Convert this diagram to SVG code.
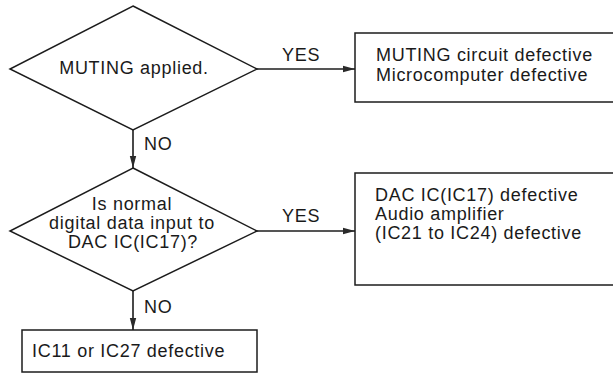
<svg xmlns="http://www.w3.org/2000/svg" width="613" height="376" viewBox="0 0 613 376">
  <style>
    .shape { fill: #ffffff; stroke: #1c1c1c; stroke-width: 1.5; }
    .link { fill: none; stroke: #1c1c1c; stroke-width: 1.6; }
    .txt { font-family: "Liberation Sans", Arial, Helvetica, sans-serif; font-size: 18px; letter-spacing: 0.7px; fill: #1a1a1a; }
    .mid { text-anchor: middle; }
  </style>
  <defs>
    <marker id="arrow" markerUnits="userSpaceOnUse" markerWidth="12" markerHeight="8" refX="12" refY="4" orient="auto">
      <path d="M0,0.8 L12,4 L0,7.2 Z" fill="#2a2a2a"/>
    </marker>
  </defs>
  <rect width="613" height="376" fill="#ffffff"/>

  <!-- connectors -->
  <g id="connectors">
    <line class="link" x1="257" y1="69" x2="355" y2="69" marker-end="url(#arrow)"/>
    <line class="link" x1="133" y1="130" x2="133" y2="168" marker-end="url(#arrow)"/>
    <line class="link" x1="257" y1="231" x2="355" y2="231" marker-end="url(#arrow)"/>
    <line class="link" x1="133" y1="291" x2="133" y2="330" marker-end="url(#arrow)"/>
    <text class="txt" x="282" y="61">YES</text>
    <text class="txt" x="144" y="150">NO</text>
    <text class="txt" x="282" y="222">YES</text>
    <text class="txt" x="144" y="313">NO</text>
  </g>

  <!-- decision: muting -->
  <g id="muting-applied">
    <polygon class="shape" points="133,6 257,69 133,130 10,69"/>
    <text class="txt mid" x="134" y="74">MUTING applied.</text>
  </g>

  <!-- result: muting / microcomputer -->
  <g id="muting-defective">
    <rect class="shape" x="355" y="33" width="270" height="69"/>
    <text class="txt" x="376" y="61">MUTING circuit defective</text>
    <text class="txt" x="376" y="81">Microcomputer defective</text>
  </g>

  <!-- decision: digital data to DAC -->
  <g id="dac-input">
    <polygon class="shape" points="133,168 257,231 133,291 10,231"/>
    <text class="txt mid" x="132" y="210">Is normal</text>
    <text class="txt mid" x="132" y="229">digital data input to</text>
    <text class="txt mid" x="133" y="248">DAC IC(IC17)?</text>
  </g>

  <!-- result: DAC / audio amplifier -->
  <g id="dac-defective">
    <rect class="shape" x="355" y="173" width="270" height="112"/>
    <text class="txt" x="375" y="201">DAC IC(IC17) defective</text>
    <text class="txt" x="375" y="220">Audio amplifier</text>
    <text class="txt" x="375" y="239">(IC21 to IC24) defective</text>
  </g>

  <!-- result: IC11 / IC27 -->
  <g id="ic11-ic27-defective">
    <rect class="shape" x="22" y="330" width="235" height="42"/>
    <text class="txt" x="32" y="357">IC11 or IC27 defective</text>
  </g>
</svg>
